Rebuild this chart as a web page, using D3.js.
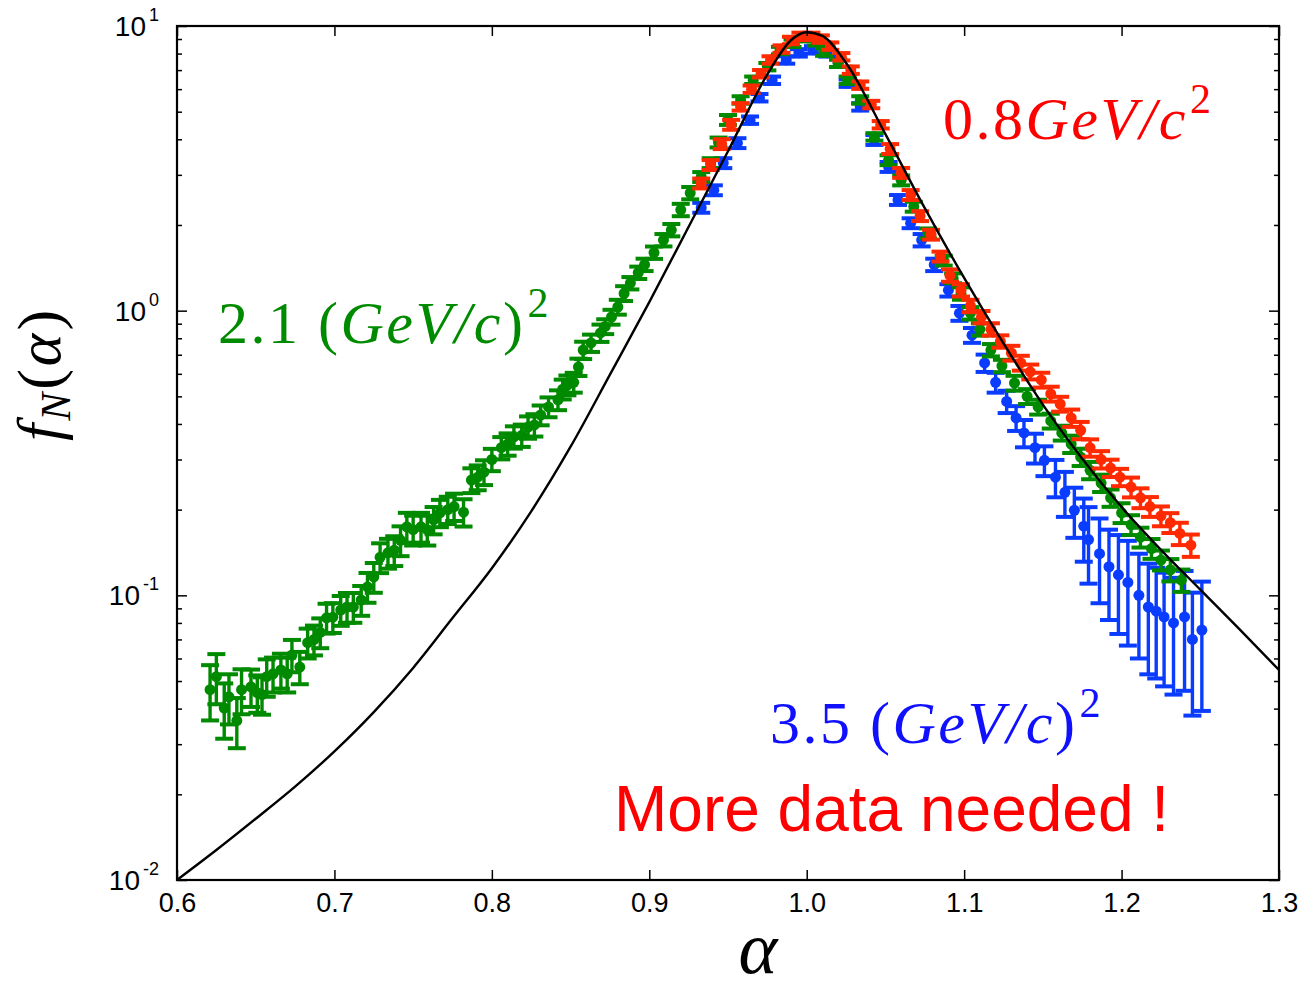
<!DOCTYPE html>
<html><head><meta charset="utf-8">
<script src="https://cdn.jsdelivr.net/npm/d3@7"></script>
<style>body{margin:0;background:#fff}</style>
</head><body>
<svg id="c" width="1299" height="990"></svg>
<script>
// ---------- data ----------
const xTickValues = [0.6, 0.7, 0.8, 0.9, 1.0, 1.1, 1.2, 1.3];
const xTickLabels = ["0.6", "0.7", "0.8", "0.9", "1.0", "1.1", "1.2", "1.3"];
const yTickValues = [10, 1, 0.1, 0.01];
const yTickExponents = ["1", "0", "-1", "-2"];

// Q2 = 2.1 (GeV/c)^2  (green)
const greenAlpha = [0.621,0.625,0.630,0.633,0.638,0.641,0.647,0.651,0.654,0.657,0.661,0.666,0.670,0.673,0.678,0.683,0.687,0.691,0.695,0.699,
  0.704,0.708,0.712,0.717,0.721,0.725,0.729,0.734,0.738,0.742,0.746,0.750,0.755,0.759,0.763,0.767,0.772,0.776,0.782,0.787,
  0.791,0.795,0.800,0.806,0.810,0.814,0.819,0.823,0.827,0.831,0.836,0.842,0.845,0.848,0.852,0.855,0.858,0.863,0.869,0.872,
  0.876,0.880,0.884,0.888,0.893,0.897,0.903,0.909,0.914,0.920,0.926,0.933,0.939,0.944,0.950,0.958,0.966,0.975,0.983,0.991,
  1.000,1.006,1.011,1.020,1.026,1.034,1.043,1.052,1.060,1.068,1.077,1.087,1.093,1.098,1.104,1.110,1.117,1.124,1.132,1.140,
  1.147,1.155,1.162,1.168,1.174,1.180,1.187,1.193,1.200,1.206,1.212,1.219,1.225,1.231,1.238];
const greenF = [0.0466,0.0518,0.0402,0.0440,0.0363,0.0466,0.0477,0.0455,0.0448,0.0518,0.0530,0.0547,0.0530,0.0617,0.0560,0.0682,0.0699,0.0741,0.0834,0.0838,
  0.0888,0.0910,0.0910,0.0963,0.107,0.116,0.136,0.141,0.144,0.156,0.174,0.170,0.174,0.170,0.184,0.195,0.200,0.205,0.196,0.254,
  0.260,0.271,0.300,0.330,0.340,0.360,0.365,0.390,0.397,0.430,0.459,0.486,0.530,0.548,0.560,0.634,0.727,0.770,0.835,0.880,
  0.950,1.03,1.15,1.25,1.36,1.45,1.60,1.77,1.92,2.26,2.59,2.95,3.30,3.90,4.68,5.50,6.45,7.20,8.20,8.70,
  9.10,8.80,8.10,7.40,6.45,5.50,4.08,3.38,2.87,2.32,1.87,1.50,1.30,1.15,0.98,0.86,0.727,0.64,0.557,0.50,
  0.459,0.41,0.372,0.34,0.306,0.275,0.248,0.22,0.195,0.177,0.160,0.146,0.133,0.123,0.113];
const greenRelErr = [0.22,0.20,0.22,0.20,0.20,0.18,0.15,0.15,0.15,0.15,0.14,0.14,0.14,0.13,0.13,0.12,0.12,0.12,0.12,0.12,
  0.12,0.12,0.12,0.12,0.12,0.12,0.12,0.12,0.12,0.12,0.12,0.12,0.12,0.12,0.11,0.11,0.11,0.11,0.11,0.10,
  0.10,0.10,0.09,0.09,0.09,0.09,0.09,0.09,0.09,0.08,0.08,0.08,0.08,0.08,0.08,0.07,0.07,0.07,0.07,0.06,
  0.06,0.06,0.06,0.05,0.05,0.05,0.05,0.05,0.05,0.05,0.05,0.04,0.04,0.04,0.04,0.03,0.03,0.03,0.03,0.03,
  0.03,0.03,0.03,0.03,0.03,0.03,0.03,0.04,0.04,0.04,0.04,0.04,0.04,0.05,0.05,0.05,0.05,0.05,0.06,0.06,
  0.06,0.06,0.06,0.07,0.07,0.07,0.07,0.07,0.08,0.08,0.08,0.08,0.08,0.09,0.09];

// Q2 = 0.8 GeV/c^2  (red)
const redAlpha = [0.933,0.939,0.946,0.952,0.958,0.965,0.971,0.977,0.984,0.990,0.996,1.003,1.009,1.015,1.022,1.028,1.034,1.041,1.047,1.053,
  1.060,1.066,1.072,1.079,1.085,1.091,1.098,1.104,1.111,1.117,1.123,1.130,1.136,1.142,1.149,1.155,1.161,1.168,1.174,1.180,
  1.187,1.193,1.199,1.206,1.212,1.218,1.225,1.231,1.237,1.244];
const redF = [2.80,3.25,3.85,4.50,5.20,6.00,6.80,7.60,8.30,8.90,9.20,9.20,9.00,8.50,7.80,7.00,6.20,5.30,4.50,3.70,
  3.05,2.55,2.15,1.85,1.55,1.33,1.18,1.04,0.95,0.86,0.78,0.71,0.655,0.61,0.571,0.51,0.47,0.42,0.38,0.33,
  0.30,0.28,0.26,0.24,0.22,0.205,0.19,0.18,0.165,0.15];
const redRelErr = [0.04,0.04,0.04,0.04,0.03,0.03,0.03,0.03,0.03,0.03,0.03,0.03,0.03,0.03,0.03,0.03,0.03,0.03,0.03,0.04,
  0.04,0.04,0.04,0.04,0.04,0.05,0.05,0.05,0.05,0.05,0.05,0.06,0.06,0.06,0.06,0.06,0.06,0.07,0.07,0.07,
  0.07,0.07,0.07,0.08,0.08,0.08,0.08,0.08,0.09,0.09];

// Q2 = 3.5 (GeV/c)^2  (blue)
const blueAlpha = [0.933,0.941,0.947,0.956,0.964,0.970,0.978,0.987,0.995,1.004,1.013,1.020,1.026,1.034,1.043,1.052,1.058,1.066,1.073,1.081,
  1.090,1.097,1.105,1.113,1.120,1.127,1.133,1.138,1.145,1.151,1.158,1.164,1.170,1.176,1.179,1.186,1.192,1.198,1.204,1.211,
  1.217,1.222,1.227,1.233,1.240,1.245,1.251];
const blueF = [2.30,2.65,3.30,3.88,4.67,5.60,6.45,7.60,8.05,8.25,8.05,7.40,6.30,5.20,3.98,3.20,2.45,2.03,1.77,1.45,
  1.18,0.98,0.82,0.655,0.56,0.48,0.42,0.372,0.33,0.298,0.26,0.23,0.199,0.175,0.157,0.14,0.126,0.118,0.111,0.100,
  0.091,0.088,0.084,0.080,0.084,0.070,0.0755];
const blueRelErr = [0.04,0.04,0.04,0.04,0.03,0.03,0.03,0.03,0.03,0.03,0.03,0.03,0.03,0.03,0.04,0.04,0.04,0.04,0.05,0.05,
  0.05,0.06,0.06,0.07,0.08,0.09,0.10,0.11,0.12,0.12,0.15,0.18,0.20,0.25,0.30,0.33,0.35,0.38,0.40,0.40,
  0.42,0.42,0.43,0.44,0.45,0.46,0.48];

// model curve (black line)
const curveAlpha = [0.600,0.625,0.650,0.675,0.700,0.725,0.750,0.775,0.800,0.825,0.850,0.875,0.900,0.925,0.950,0.975,0.990,1.000,
  1.010,1.025,1.050,1.075,1.100,1.125,1.150,1.175,1.200,1.225,1.250,1.275,1.300];
const curveF = [0.0100,0.01274,0.01641,0.02128,0.02831,0.0389,0.05559,0.08318,0.1245,0.1972,0.3327,0.596,1.072,1.972,3.631,6.761,8.913,9.506,
  9.226,7.413,4.169,2.291,1.303,0.7674,0.4677,0.3020,0.2042,0.1445,0.1047,0.0759,0.0547];

// ---------- drawing ----------
const svg = d3.select("#c");
const L = 177, R = 1279, T = 26, B = 880;
const x = d3.scaleLinear().domain([0.6, 1.3]).range([L, R]);
const y = d3.scaleLog().domain([0.01, 10]).range([B, T]);

const defs = svg.append("defs");
defs.append("clipPath").attr("id", "clip").append("rect")
  .attr("x", L).attr("y", T).attr("width", R - L).attr("height", B - T);

const sansFont = "'Liberation Sans', Arial, Helvetica, sans-serif";
const serifFont = "'Liberation Serif', 'Times New Roman', serif";

// series
function drawSeries(alpha, f, rel, color) {
  const pts = alpha.map((a, i) => ({a, v: f[i], e: f[i] * rel[i]}));
  const g = svg.append("g").attr("clip-path", "url(#clip)");
  const cap = 9;
  const eb = g.selectAll("g.eb").data(pts).join("g");
  eb.append("line")
    .attr("x1", d => x(d.a)).attr("x2", d => x(d.a))
    .attr("y1", d => y(d.v + d.e)).attr("y2", d => y(Math.max(d.v - d.e, 1e-4)))
    .attr("stroke", color).attr("stroke-width", 3.4);
  eb.append("line")
    .attr("x1", d => x(d.a) - cap).attr("x2", d => x(d.a) + cap)
    .attr("y1", d => y(d.v + d.e)).attr("y2", d => y(d.v + d.e))
    .attr("stroke", color).attr("stroke-width", 4);
  eb.append("line")
    .attr("x1", d => x(d.a) - cap).attr("x2", d => x(d.a) + cap)
    .attr("y1", d => y(d.v - d.e)).attr("y2", d => y(d.v - d.e))
    .attr("stroke", color).attr("stroke-width", 4);
  eb.append("circle")
    .attr("cx", d => x(d.a)).attr("cy", d => y(d.v)).attr("r", 5.5)
    .attr("fill", color);
}
drawSeries(blueAlpha, blueF, blueRelErr, "#0a3cff");
drawSeries(greenAlpha, greenF, greenRelErr, "#008a00");
drawSeries(redAlpha, redF, redRelErr, "#ff2a00");

// model curve
const line = d3.line().x(d => x(d[0])).y(d => y(d[1])).curve(d3.curveMonotoneX);
svg.append("path").attr("clip-path", "url(#clip)")
  .datum(curveAlpha.map((a, i) => [a, curveF[i]]))
  .attr("d", line).attr("fill", "none").attr("stroke", "#000").attr("stroke-width", 2.4);

// axes
const minorY = [];
[0.01, 0.1, 1].forEach(dec => { for (let k = 2; k <= 9; k++) minorY.push(dec * k); });

function styleAxis(g) {
  g.select(".domain").remove();
  g.selectAll(".tick line").attr("stroke", "#000").attr("stroke-width", 1.5);
}
svg.append("g").attr("transform", `translate(0,${B})`)
  .call(d3.axisBottom(x).tickValues(xTickValues).tickSize(-10).tickPadding(13)
    .tickFormat((d, i) => xTickLabels[i]))
  .call(styleAxis)
  .call(g => g.selectAll("text").attr("font-family", sansFont).attr("font-size", 27).attr("fill", "#000"));
svg.append("g").attr("transform", `translate(0,${T})`)
  .call(d3.axisTop(x).tickValues(xTickValues).tickSize(-10).tickFormat(""))
  .call(styleAxis);
svg.append("g").attr("transform", `translate(${L},0)`)
  .call(d3.axisLeft(y).tickValues(yTickValues).tickSize(-10).tickFormat(""))
  .call(styleAxis);
svg.append("g").attr("transform", `translate(${L},0)`)
  .call(d3.axisLeft(y).tickValues(minorY).tickSize(-5).tickFormat(""))
  .call(styleAxis);
svg.append("g").attr("transform", `translate(${R},0)`)
  .call(d3.axisRight(y).tickValues(yTickValues).tickSize(-10).tickFormat(""))
  .call(styleAxis);
svg.append("g").attr("transform", `translate(${R},0)`)
  .call(d3.axisRight(y).tickValues(minorY).tickSize(-5).tickFormat(""))
  .call(styleAxis);

// y tick labels 10^n
yTickValues.forEach((v, i) => {
  const t = svg.append("text").attr("x", 159).attr("y", y(v) + 10)
    .attr("text-anchor", "end").attr("font-family", sansFont).attr("fill", "#000");
  t.append("tspan").attr("font-size", 28).text("10");
  t.append("tspan").attr("font-size", 18).attr("dx", 3).attr("dy", -15).text(yTickExponents[i]);
});

// frame
svg.append("rect").attr("x", L).attr("y", T).attr("width", R - L).attr("height", B - T)
  .attr("fill", "none").attr("stroke", "#000").attr("stroke-width", 2.2);

// annotations
function labelQ(xp, yp, prefix, paren, color) {
  const t = svg.append("text").attr("x", xp).attr("y", yp)
    .attr("font-family", serifFont).attr("font-size", 60).attr("letter-spacing", 2.5).attr("fill", color);
  t.append("tspan").text(prefix + (paren ? " (" : ""));
  t.append("tspan").attr("font-style", "italic").text("GeV/c");
  if (paren) t.append("tspan").text(")");
  t.append("tspan").attr("font-size", 42).attr("dy", -26).attr("dx", 2).text("2");
}
labelQ(943, 139, "0.8", false, "#ff0000");
labelQ(218, 343, "2.1", true, "#008a00");
labelQ(770, 743, "3.5", true, "#1010ff");

svg.append("text").attr("x", 614).attr("y", 831)
  .attr("font-family", sansFont).attr("font-size", 64).attr("fill", "#ff0000")
  .text("More data needed !");

// axis titles
const yl = svg.append("text").attr("transform", "translate(60,374) rotate(-90)")
  .attr("text-anchor", "middle").attr("font-family", serifFont).attr("font-size", 62)
  .attr("letter-spacing", 3).attr("fill", "#000");
yl.append("tspan").attr("font-style", "italic").text("f");
yl.append("tspan").attr("font-style", "italic").attr("font-size", 42).attr("dy", 10).text("N");
yl.append("tspan").attr("dy", -10).text("(");
yl.append("tspan").attr("font-style", "italic").text("α");
yl.append("tspan").text(")");

svg.append("text").attr("x", 758).attr("y", 973).attr("text-anchor", "middle")
  .attr("font-family", serifFont).attr("font-style", "italic").attr("font-size", 74).attr("fill", "#000")
  .text("α");
</script>
</body></html>
